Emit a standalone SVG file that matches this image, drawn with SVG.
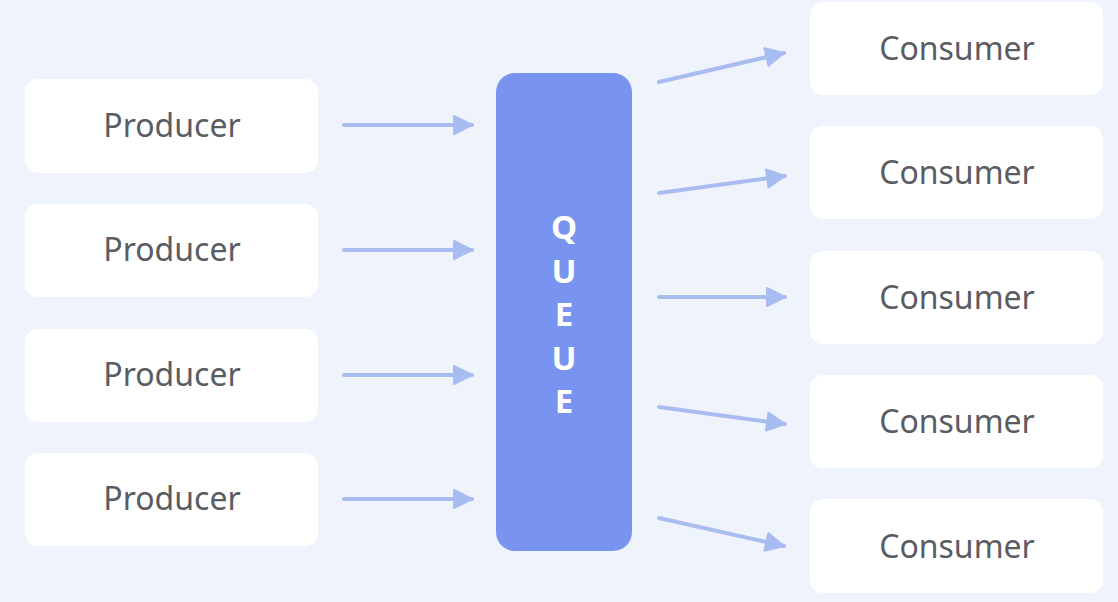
<svg xmlns="http://www.w3.org/2000/svg" width="1118" height="602" viewBox="0 0 1118 602">
<defs>
<style>
.bg{fill:#EFF4FC}
.box{fill:#FFFFFF}
.lbl{font-family:"Noto Sans","Open Sans",sans-serif;font-size:32px;fill:#595C63;text-anchor:middle}
.q{fill:#7894F0}
.qt{font-family:"Noto Sans","Open Sans",sans-serif;font-size:33px;font-weight:bold;fill:#FFFFFF;text-anchor:middle}
.arr{stroke:#A9BCF2;stroke-width:4;fill:none;stroke-linecap:round;marker-end:url(#ah)}
</style>
<marker id="ah" markerUnits="userSpaceOnUse" markerWidth="24" markerHeight="24" viewBox="0 0 24 24" refX="20" refY="12" orient="auto">
<path d="M2,3 L20,12 L2,21 Z" fill="#A9BCF2" stroke="#A9BCF2" stroke-width="2" stroke-linejoin="round"/>
</marker>
</defs>
<rect class="bg" x="0" y="0" width="1118" height="602"/>
<g id="producer1"><rect class="box" x="25" y="79" width="293" height="94" rx="13"/><text class="lbl" x="172" y="137">Producer</text></g>
<g id="producer2"><rect class="box" x="25" y="204" width="293" height="93" rx="13"/><text class="lbl" x="172" y="261">Producer</text></g>
<g id="producer3"><rect class="box" x="25" y="329" width="293" height="93" rx="13"/><text class="lbl" x="172" y="386">Producer</text></g>
<g id="producer4"><rect class="box" x="25" y="453" width="293" height="93" rx="13"/><text class="lbl" x="172" y="510">Producer</text></g>
<g id="queue"><rect class="q" x="496" y="73" width="136" height="478" rx="19"/>
<text class="qt" x="564" y="239">Q</text>
<text class="qt" x="564" y="283">U</text>
<text class="qt" x="564" y="326">E</text>
<text class="qt" x="564" y="370">U</text>
<text class="qt" x="564" y="413">E</text>
</g>
<g id="consumer1"><rect class="box" x="810" y="2" width="293" height="93" rx="13"/><text class="lbl" x="957" y="60">Consumer</text></g>
<g id="consumer2"><rect class="box" x="810" y="126" width="293" height="93" rx="13"/><text class="lbl" x="957" y="184">Consumer</text></g>
<g id="consumer3"><rect class="box" x="810" y="251" width="293" height="93" rx="13"/><text class="lbl" x="957" y="309">Consumer</text></g>
<g id="consumer4"><rect class="box" x="810" y="375" width="293" height="93" rx="13"/><text class="lbl" x="957" y="433">Consumer</text></g>
<g id="consumer5"><rect class="box" x="810" y="499" width="293" height="94" rx="13"/><text class="lbl" x="957" y="558">Consumer</text></g>
<g id="connectors">
<line class="arr" x1="344" y1="125" x2="472" y2="125"/>
<line class="arr" x1="344" y1="250" x2="472" y2="250"/>
<line class="arr" x1="344" y1="375" x2="472" y2="375"/>
<line class="arr" x1="344" y1="499" x2="472" y2="499"/>
<line class="arr" x1="659" y1="82" x2="784" y2="53"/>
<line class="arr" x1="659" y1="193" x2="785" y2="176"/>
<line class="arr" x1="659" y1="297" x2="785" y2="297"/>
<line class="arr" x1="659" y1="407" x2="785" y2="424"/>
<line class="arr" x1="659" y1="518" x2="784" y2="546"/>
</g>
</svg>
